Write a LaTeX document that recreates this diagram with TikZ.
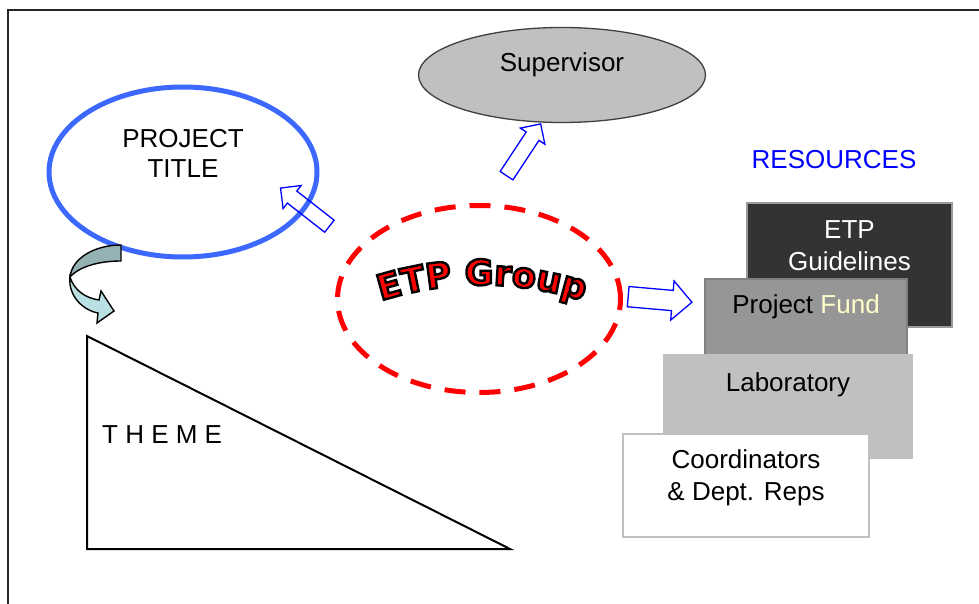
\documentclass[tikz,border=0pt]{standalone}
\usepackage{fontspec}
\setmainfont{Liberation Sans}
\newfontfamily\etpfont{DejaVu Sans}
\usepackage{tikz}
\usetikzlibrary{arrows.meta, positioning, shapes.geometric, shapes.arrows, decorations.text}

\definecolor{titleblue}{RGB}{60,104,255}
\definecolor{etpred}{RGB}{255,0,0}
\definecolor{supgray}{RGB}{192,192,192}
\definecolor{guidegray}{RGB}{51,51,51}
\definecolor{fundgray}{RGB}{150,150,150}
\definecolor{labgray}{RGB}{192,192,192}
\definecolor{fundyellow}{RGB}{255,255,204}
\definecolor{arrowdark}{RGB}{148,177,180}
\definecolor{arrowlight}{RGB}{185,225,227}

% black outline round the red letters
\newcommand\etpoutline{\special{pdf:literal direct 0 0 0 RG 2.4 w 2 Tr}}

\begin{document}
\begin{tikzpicture}[
  x=1pt, y=-1pt,
  >=Latex,
  font=\fontsize{26}{30}\selectfont,
  frame/.style={draw=black!85, line width=1.6pt},
  oval/.style={ellipse, inner sep=0pt},
  txt/.style={inner sep=0pt, align=center},
  resbox/.style={
    rectangle, inner sep=0pt,
    line width=1.6pt
  },
  blockarrow/.style={
    single arrow, draw=blue, line width=1.3pt,
    inner xsep=0pt, inner ysep=7pt,
    single arrow head extend=7pt,
    minimum height=62pt
  },
  widearrow/.style={
    blockarrow,
    inner ysep=9.5pt,
    single arrow head extend=9.5pt,
    minimum height=64pt
  },
]

\useasboundingbox (0,0) rectangle (979,604);
\clip (0,0) rectangle (979,604);

% --- Frame ---
\draw[frame] (8,10) rectangle (995,620);

% --- Supervisor ---
\node[oval, draw=black!75, fill=supgray, line width=1.3pt,
      minimum width=287pt, minimum height=95pt] (SUP) at (562,75) {};
\node[txt] (SUPTXT) at ([yshift=10pt]SUP.center) {Supervisor};

% --- Project title ---
\node[oval, draw=titleblue, line width=5pt,
      minimum width=268pt, minimum height=170pt] (TITLE) at (183,172) {};
\node[txt] (TITLETXT) at ([yshift=19pt]TITLE.center) {PROJECT\\TITLE};

% --- Curved arrow to theme ---
\filldraw[fill=arrowdark, draw=black, line width=1.4pt]
  (121,245) .. controls (95,245) and (72,258) .. (70,277)
  .. controls (80,266) and (100,261) .. (121,261) -- cycle;
\filldraw[fill=arrowlight, draw=black, line width=1.4pt]
  (70,277) .. controls (68,295) and (82,310) .. (98,313)
  -- (97,323) -- (114,311) -- (101,291) -- (99,300)
  .. controls (85,298) and (74,290) .. (70,277) -- cycle;

% --- Theme ---
\draw[line width=2pt] (87,336) -- (87,549) -- (510,549) -- cycle;
\node[txt, anchor=west] (THEME) at (102,435) {T H E M E};

% --- Resources ---
\node[txt, text=blue] (RES) at (834,160) {RESOURCES};
\node[resbox, fill=guidegray, draw=black!40,
      minimum width=205pt, minimum height=124pt] (GUIDE) at (849.5,265) {};
\node[resbox, fill=fundgray, draw=black!50,
      minimum width=202pt, minimum height=80pt] (FUND) at (806,319) {};
\node[resbox, fill=labgray, draw=labgray,
      minimum width=248pt, minimum height=103pt] (LAB) at (788,406.5) {};
\node[resbox, fill=white, draw=black!25,
      minimum width=246pt, minimum height=103pt] (COORD) at (746,485.5) {};

\node[txt, text=white, font=\fontsize{26}{32}\selectfont]
  (GUIDETXT) at ([yshift=-43pt]GUIDE.north) {ETP\\Guidelines};
\node[txt] (FUNDTXT) at ([yshift=-29pt]FUND.north)
  {Project \textcolor{fundyellow}{Fund}};
\node[txt] (LABTXT) at ([yshift=-31pt]LAB.north) {Laboratory};
\node[txt, font=\fontsize{26}{32}\selectfont]
  (COORDTXT) at ([yshift=-45pt]COORD.north) {Coordinators\\\& Dept. Reps};

% --- ETP group ---
\node[oval, draw=etpred, line width=5pt, dash pattern=on 21pt off 14pt,
      minimum width=283pt, minimum height=187pt] (ETP) at (479,299) {};
\begin{scope}
  \path[decorate, decoration={text along path, text align=center,
        text={|\etpfont\bfseries\fontsize{35}{38}\selectfont\color{etpred}\etpoutline|ETP Group}}]
    (374,303) .. controls (446,279) and (518,279) .. (590,303);
\end{scope}

% --- Block arrows ---
\node[blockarrow, rotate=142] (TOTITLE) at (308,209.5) {};
\node[blockarrow, rotate=56.6] (TOSUP) at (521.5,153) {};
\node[widearrow, rotate=-5] (TORES) at (655,299) {};

\end{tikzpicture}
\end{document}
